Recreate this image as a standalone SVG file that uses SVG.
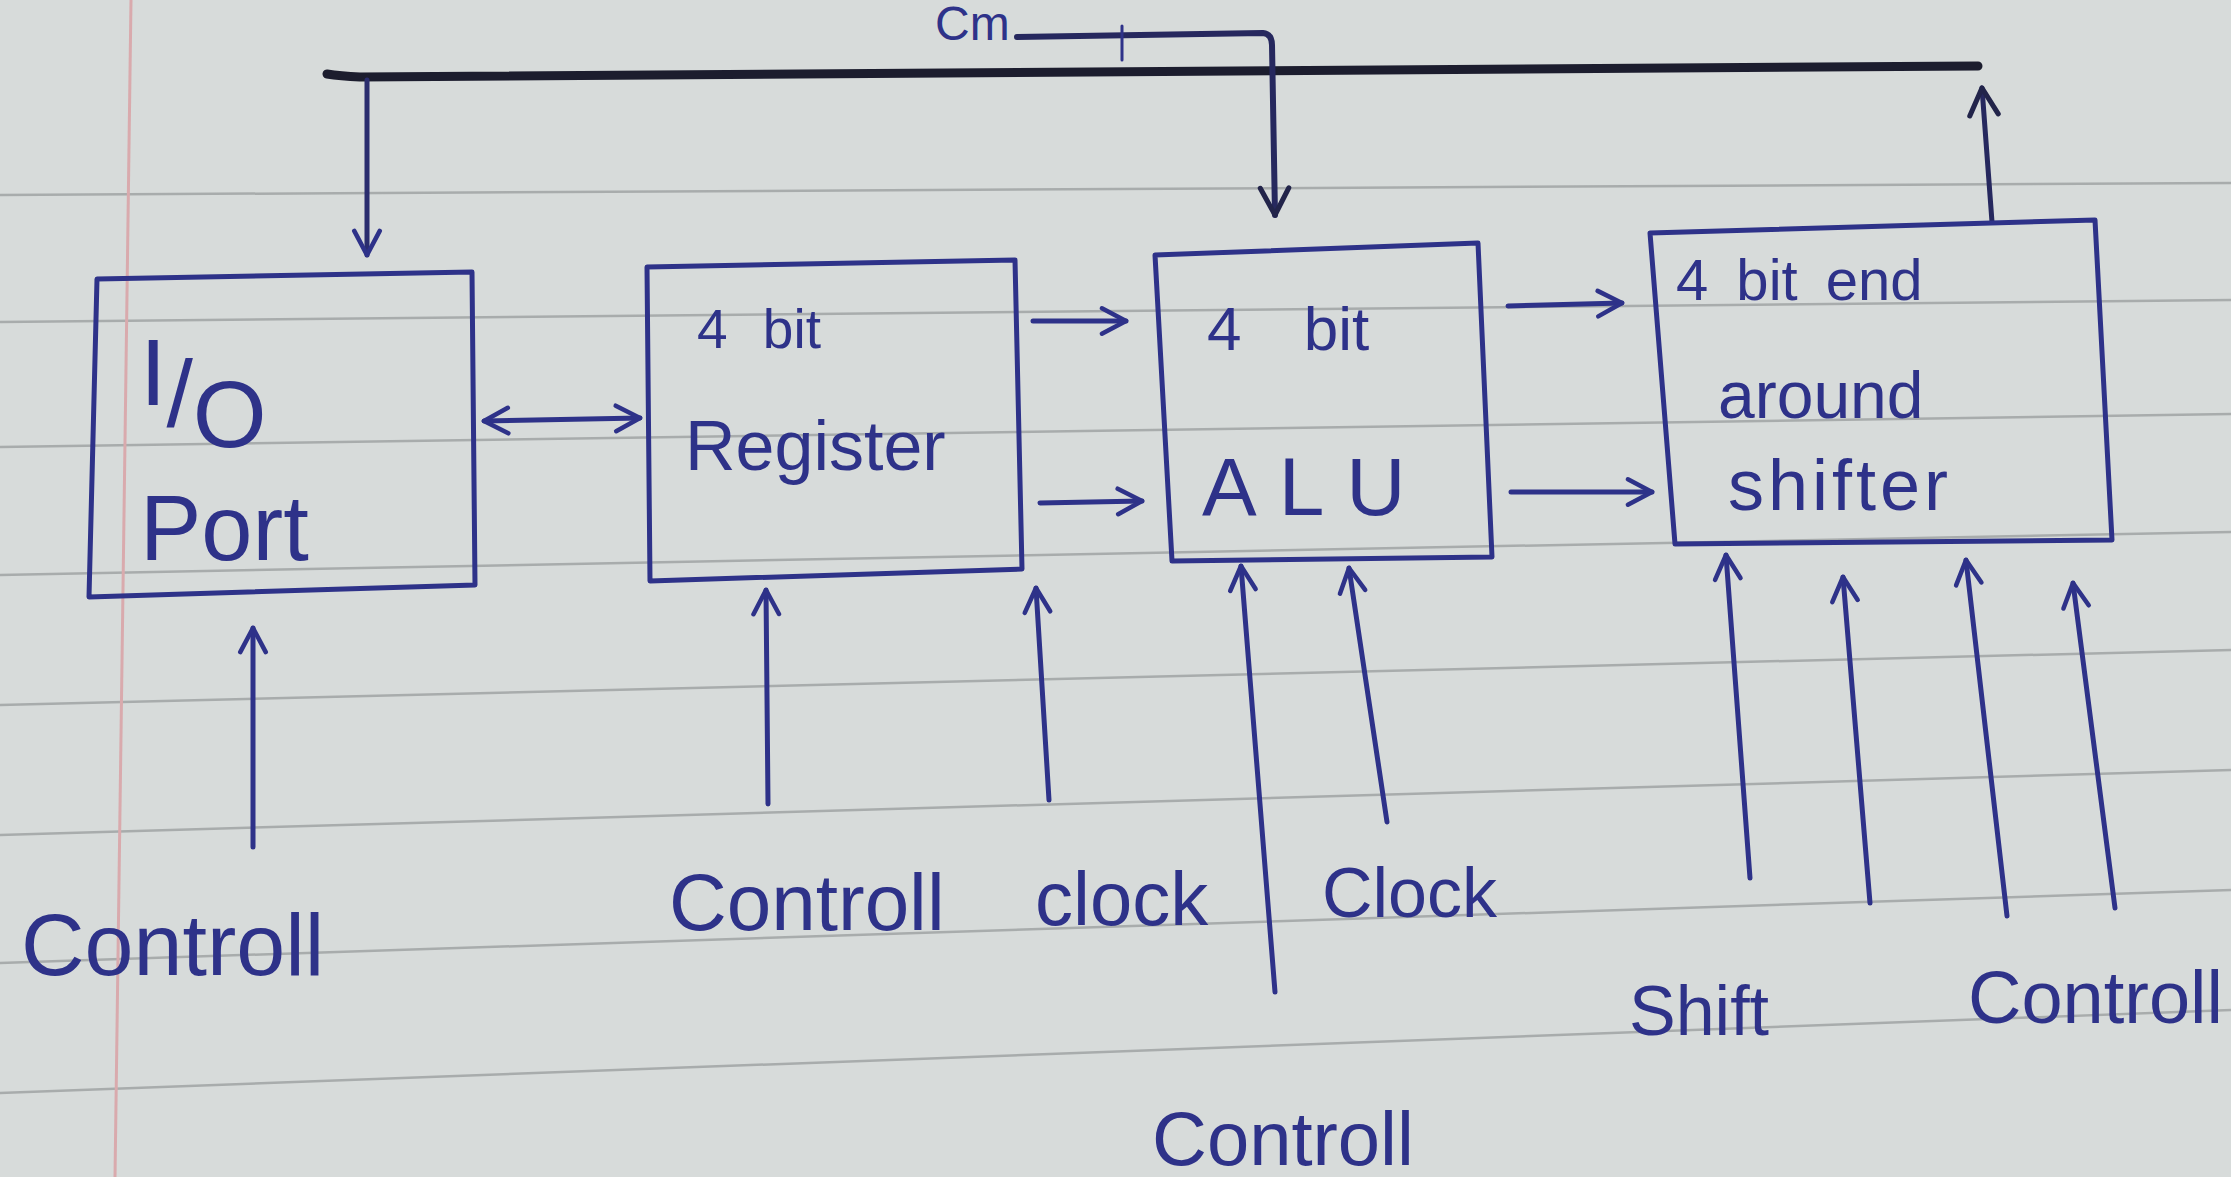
<svg xmlns="http://www.w3.org/2000/svg" width="2231" height="1177" viewBox="0 0 2231 1177">
<style>
.ink{stroke:#2e3289;stroke-width:5;fill:none;stroke-linecap:round;stroke-linejoin:round}
.box{stroke:#2e3289;stroke-width:5;fill:none;stroke-linejoin:round}
.bus{stroke:#1c1d2e;stroke-width:9;fill:none;stroke-linecap:round}
.rule{stroke:#a8acac;stroke-width:2.5;fill:none}
.lbl{font-family:"Liberation Sans","DejaVu Sans",sans-serif;fill:#2e3289}
</style>
<defs>
<marker id="ah" viewBox="0 0 24 24" refX="21" refY="12" markerWidth="34" markerHeight="34" markerUnits="userSpaceOnUse" orient="auto-start-reverse">
<path d="M4,3 L21,12 L4,21" fill="none" stroke="#2e3289" stroke-width="3.2" stroke-linecap="round" stroke-linejoin="round"/>
</marker>
<marker id="ahk" viewBox="0 0 24 24" refX="21" refY="12" markerWidth="38" markerHeight="38" markerUnits="userSpaceOnUse" orient="auto-start-reverse">
<path d="M4,3 L21,12 L4,21" fill="none" stroke="#22244a" stroke-width="3.2" stroke-linecap="round" stroke-linejoin="round"/>
</marker>
</defs>
<g id="paper">
<rect x="0" y="0" width="2231" height="1177" fill="#d7dbda"/>
<line class="rule" x1="0" y1="195" x2="2231" y2="183"/>
<line class="rule" x1="0" y1="322" x2="2231" y2="300"/>
<line class="rule" x1="0" y1="447" x2="2231" y2="414"/>
<line class="rule" x1="0" y1="575" x2="2231" y2="532"/>
<line class="rule" x1="0" y1="705" x2="2231" y2="650"/>
<line class="rule" x1="0" y1="835" x2="2231" y2="770"/>
<line class="rule" x1="0" y1="963" x2="2231" y2="890"/>
<line class="rule" x1="0" y1="1093" x2="2231" y2="1010"/>
<line x1="131" y1="0" x2="115" y2="1177" stroke="#d9aaad" stroke-width="3"/>
</g>
<g id="connectors">
<path class="bus" d="M327,74 Q340,76 360,77 L1978,66"/>
<line class="ink" x1="367" y1="80" x2="367" y2="255" marker-end="url(#ah)" style="stroke:#2a2d6e"/>
<path class="ink" d="M1017,37 L1263,33 Q1272,34 1272,45 L1275,215" marker-end="url(#ahk)" style="stroke:#26285e;stroke-width:6"/>
<line class="ink" x1="1122" y1="26" x2="1122" y2="60" style="stroke-width:3"/>
<line class="ink" x1="1992" y1="222" x2="1982" y2="88" marker-end="url(#ahk)" style="stroke:#26285e"/>
<line class="ink" x1="484" y1="421" x2="640" y2="418" marker-start="url(#ah)" marker-end="url(#ah)"/>
<line class="ink" x1="1033" y1="321" x2="1126" y2="321" marker-end="url(#ah)"/>
<line class="ink" x1="1040" y1="503" x2="1142" y2="501" marker-end="url(#ah)"/>
<line class="ink" x1="1508" y1="306" x2="1622" y2="303" marker-end="url(#ah)"/>
<line class="ink" x1="1511" y1="492" x2="1652" y2="492" marker-end="url(#ah)"/>
<line class="ink" x1="253" y1="847" x2="253" y2="628" marker-end="url(#ah)"/>
<line class="ink" x1="768" y1="804" x2="766" y2="590" marker-end="url(#ah)"/>
<line class="ink" x1="1049" y1="800" x2="1036" y2="588" marker-end="url(#ah)"/>
<line class="ink" x1="1275" y1="992" x2="1241" y2="566" marker-end="url(#ah)"/>
<line class="ink" x1="1387" y1="822" x2="1349" y2="568" marker-end="url(#ah)"/>
<line class="ink" x1="1750" y1="878" x2="1726" y2="555" marker-end="url(#ah)"/>
<line class="ink" x1="1870" y1="903" x2="1843" y2="577" marker-end="url(#ah)"/>
<line class="ink" x1="2007" y1="916" x2="1966" y2="560" marker-end="url(#ah)"/>
<line class="ink" x1="2115" y1="908" x2="2073" y2="583" marker-end="url(#ah)"/>
</g>
<g id="io-port">
<path class="box" d="M97,279 L472,272 L475,585 L89,597 Z"/>
<text class="lbl" x="140" y="405" font-size="95">I<tspan dy="22">/</tspan><tspan dy="20">O</tspan></text>
<text class="lbl" x="140" y="560" font-size="92">Port</text>
</g>
<g id="register">
<path class="box" d="M647,267 L1015,260 L1022,569 L650,581 Z"/>
<text class="lbl" x="697" y="348" font-size="55" word-spacing="20">4 bit</text>
<text class="lbl" x="685" y="470" font-size="70">Register</text>
</g>
<g id="alu">
<path class="box" d="M1155,255 L1478,243 L1492,557 L1172,561 Z"/>
<text class="lbl" x="1207" y="350" font-size="62" word-spacing="45">4 bit</text>
<text class="lbl" x="1202" y="515" font-size="82" letter-spacing="22">ALU</text>
</g>
<g id="shifter">
<path class="box" d="M1650,233 L2095,220 L2112,540 L1675,544 Z"/>
<text class="lbl" x="1676" y="300" font-size="58" word-spacing="12">4 bit end</text>
<text class="lbl" x="1718" y="418" font-size="66">around</text>
<text class="lbl" x="1728" y="510" font-size="72" letter-spacing="4">shifter</text>
</g>
<g id="labels">
<text class="lbl" x="935" y="40" font-size="48">Cm</text>
<text class="lbl" x="21" y="975" font-size="88">Controll</text>
<text class="lbl" x="669" y="930" font-size="80">Controll</text>
<text class="lbl" x="1035" y="925" font-size="76">clock</text>
<text class="lbl" x="1322" y="917" font-size="70">Clock</text>
<text class="lbl" x="1152" y="1165" font-size="76">Controll</text>
<text class="lbl" x="1629" y="1035" font-size="70">Shift</text>
<text class="lbl" x="1968" y="1023" font-size="74">Controll</text>
</g>
</svg>
